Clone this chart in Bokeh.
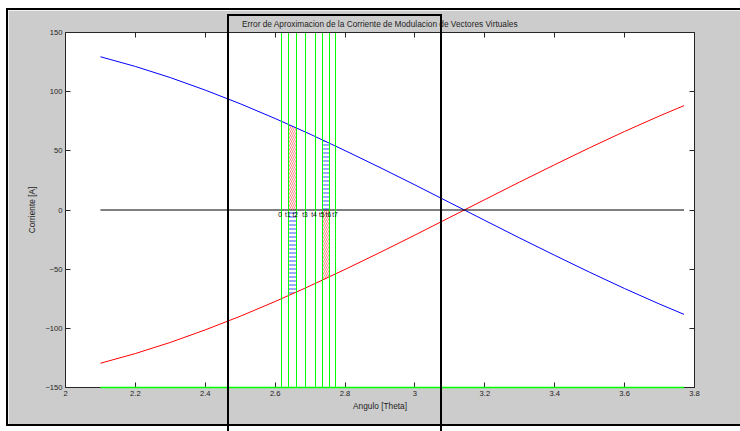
from bokeh.plotting import figure
from bokeh.models import (Range1d, LinearAxis, FixedTicker, PrintfTickFormatter,
                          CustomLabelingPolicy, InlineStyleSheet)
from bokeh.embed import file_html
from bokeh.resources import INLINE
from bokeh.core.properties import value

# ---------------- data ----------------
theta = [2.1, 2.2, 2.3, 2.4, 2.5, 2.6, 2.7, 2.8, 2.9, 3.0, 3.1, 3.2, 3.3,
         3.4, 3.5, 3.6, 3.7, 3.77]
blue_current = [129.5, 121.3, 111.9, 101.3, 89.8, 77.3, 64.1, 50.2, 35.9,
                21.2, 6.2, -8.8, -23.7, -38.3, -52.6, -66.4, -79.5, -88.2]
red_current = [-129.5, -121.3, -111.9, -101.3, -89.8, -77.3, -64.1, -50.2,
               -35.9, -21.2, -6.2, 8.8, 23.7, 38.3, 52.6, 66.4, 79.5, 88.2]

zero_x = [2.1, 3.77]
zero_y = [0, 0]
floor_y = [-150, -150]

t_positions = [2.617, 2.639, 2.660, 2.688, 2.714, 2.736, 2.755, 2.774]
t_labels = ["0", "t1", "t2", "t3", "t4", "t5", "t6", "t7"]

hatch1_x = [2.639, 2.660]
hatch1_blue = [72.2, 69.4]
hatch1_red = [-72.2, -69.4]
hatch2_x = [2.736, 2.755]
hatch2_blue = [59.3, 56.6]
hatch2_red = [-59.3, -56.6]

x_ticks = [2.0, 2.2, 2.4, 2.6, 2.8, 3.0, 3.2, 3.4, 3.6, 3.8]
y_ticks = [-150, -100, -50, 0, 50, 100, 150]

TITLE = "Error de Aproximacion de la Corriente de Modulacion de Vectores Virtuales"
XLABEL = "Angulo [Theta]"
YLABEL = "Corriente [A]"

FONT = "Liberation Sans"
GRAY = "#cccccc"
AX = "#262626"
TXT = "#1e1e1e"

# ---------------- figure ----------------
p = figure(width=732, height=414, output_backend="svg", toolbar_location=None,
           x_range=Range1d(2, 3.8), y_range=Range1d(-150, 150),
           min_border_left=57, min_border_right=46, min_border_top=22,
           min_border_bottom=37, border_fill_color=GRAY,
           background_fill_color="white", outline_line_color=None)

# page decoration: window frame and the black highlight rectangle (CSS only)
p.styles = {"margin-left": "8px", "margin-top": "10px",
            "outline": "2px solid black", "position": "relative",
            "overflow": "visible"}
p.stylesheets = [InlineStyleSheet(css="""
:host::after {
  content: "";
  position: absolute;
  left: 219px;
  top: 4px;
  width: 211px;
  height: 440px;
  border: 2px solid black;
  pointer-events: none;
  z-index: 10;
}
""")]

p.title.text = TITLE
p.title.text_font = FONT
p.title.text_font_size = "8.3px"
p.title.text_font_style = "normal"
p.title.text_color = TXT
p.title.align = "center"
p.title.standoff = 7

p.xgrid.visible = False
p.ygrid.visible = False


def style_axis(ax, ticks, show_labels):
    ax.ticker = FixedTicker(ticks=ticks)
    ax.major_tick_in = 5
    ax.major_tick_out = 0
    ax.minor_tick_line_color = None
    ax.axis_line_color = AX
    ax.major_tick_line_color = AX
    ax.major_label_text_font = FONT
    ax.major_label_text_font_size = "7.6px"
    ax.major_label_text_color = TXT
    ax.major_label_standoff = 3
    ax.axis_label_text_font = FONT
    ax.axis_label_text_font_size = "8.3px"
    ax.axis_label_text_font_style = "normal"
    ax.axis_label_text_color = TXT
    if not show_labels:
        ax.major_label_text_font_size = "0px"
        ax.major_label_standoff = 0
        ax.major_label_policy = CustomLabelingPolicy(code="return new Set()")


xb = p.xaxis[0]
yl = p.yaxis[0]
style_axis(xb, x_ticks, True)
style_axis(yl, y_ticks, True)
xb.formatter = PrintfTickFormatter(format="%g")
xb.axis_label = XLABEL
xb.axis_label_standoff = 2
yl.axis_label = YLABEL
yl.axis_label_standoff = 5

xt = LinearAxis()
style_axis(xt, x_ticks, False)
p.add_layout(xt, "above")
yr = LinearAxis()
style_axis(yr, y_ticks, False)
p.add_layout(yr, "right")

# ---------------- glyphs ----------------
p.varea(x=hatch1_x, y1=zero_y, y2=hatch1_blue, fill_color=None,
        hatch_pattern="\\", hatch_color="#ff3030", hatch_alpha=0.6,
        hatch_scale=4, hatch_weight=1)
p.varea(x=hatch1_x, y1=zero_y, y2=hatch1_red, fill_color=None,
        hatch_pattern="-", hatch_color="#2040ff", hatch_alpha=0.9,
        hatch_scale=4, hatch_weight=1)
p.varea(x=hatch2_x, y1=zero_y, y2=hatch2_blue, fill_color=None,
        hatch_pattern="-", hatch_color="#2040ff", hatch_alpha=0.9,
        hatch_scale=4, hatch_weight=1)
p.varea(x=hatch2_x, y1=zero_y, y2=hatch2_red, fill_color=None,
        hatch_pattern="\\", hatch_color="#ff3030", hatch_alpha=0.6,
        hatch_scale=4, hatch_weight=1)

p.line(theta, blue_current, line_color="#0000ff", line_width=1)
p.line(theta, red_current, line_color="#ff0000", line_width=1)
p.line(zero_x, zero_y, line_color="#000000", line_width=1)
p.vspan(x=t_positions, line_color="#00ff00", line_width=1)
p.line(zero_x, floor_y, line_color="#00ff00", line_width=1.5, level="overlay")

p.text(x=t_positions, y=[-3.5] * len(t_positions), text=t_labels,
       text_align="center", text_baseline="middle", text_font=value(FONT),
       text_font_size="6.5px", text_color="#000000", x_offset=-1)

open("out.html", "w").write(file_html(p, INLINE))
